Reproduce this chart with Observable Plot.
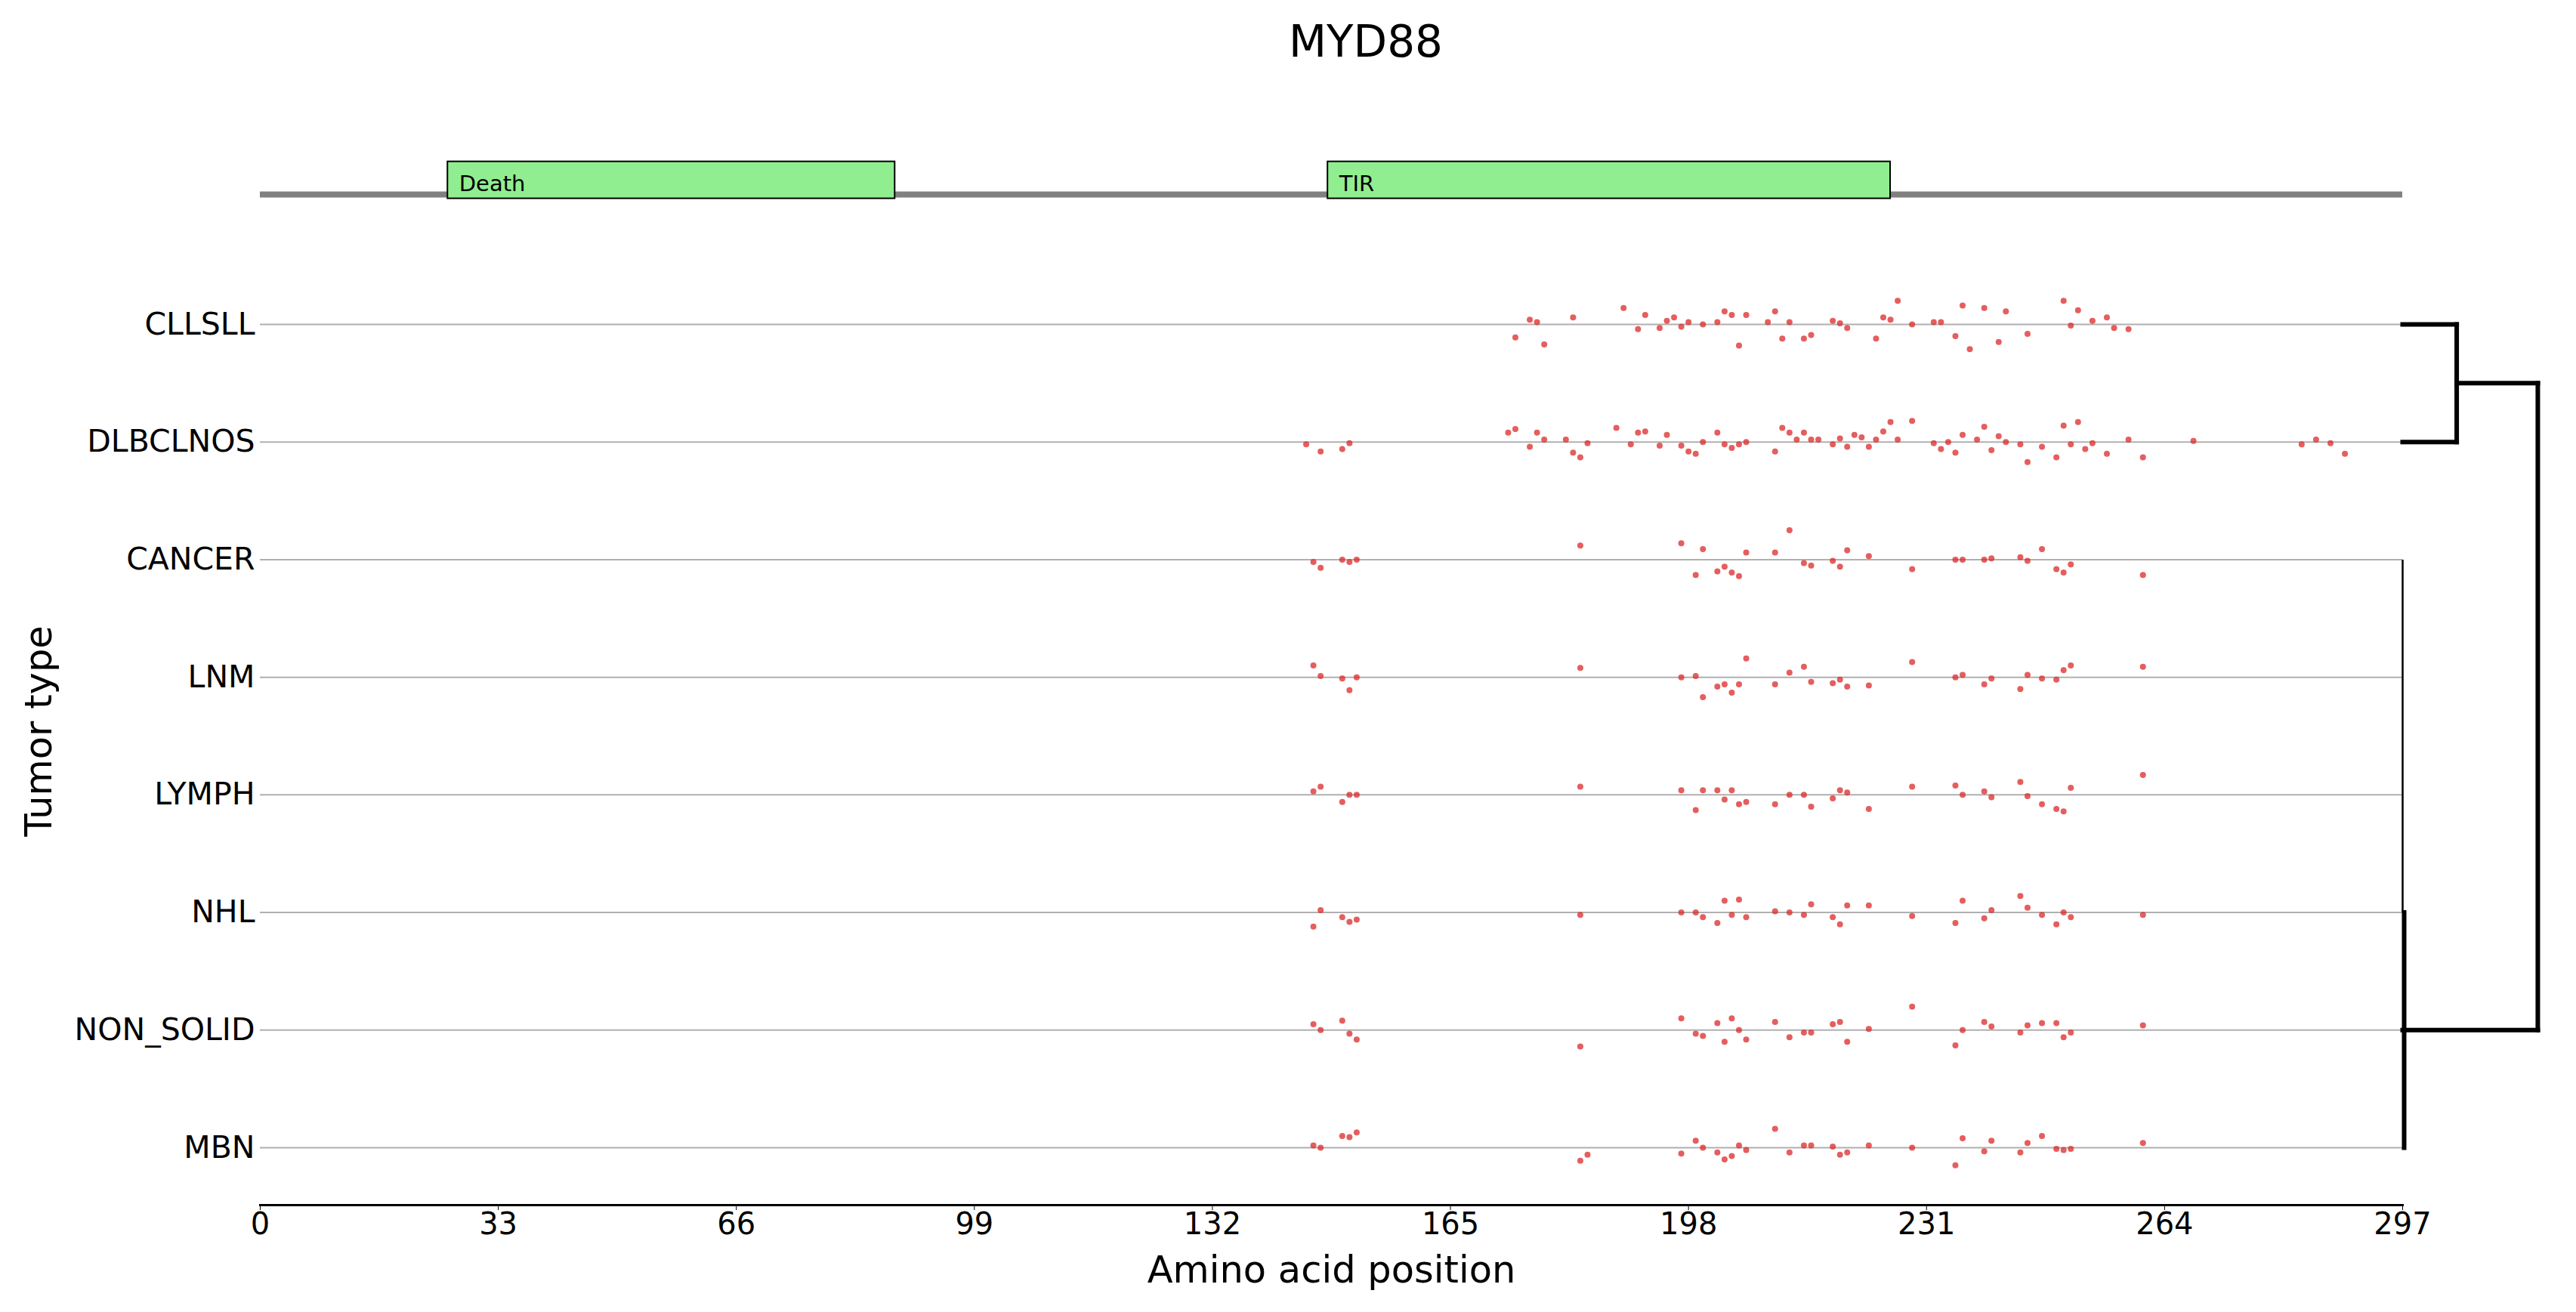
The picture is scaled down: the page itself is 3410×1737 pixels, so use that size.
<!DOCTYPE html>
<html><head><meta charset="utf-8">
<script src="https://cdn.jsdelivr.net/npm/d3@7"></script>
<script src="https://cdn.jsdelivr.net/npm/@observablehq/plot@0.6"></script>
<style>
body{margin:0;background:#fff;}
#wrap{position:relative;width:3410px;height:1737px;background:#fff;}
#title{position:absolute;left:1808px;top:26px;transform:translateX(-50%);font-family:"DejaVu Sans";font-size:58px;line-height:58px;white-space:nowrap;color:#000;}
#chart{position:absolute;left:0;top:0;}
</style></head><body>
<div id="wrap"><div id="chart"></div><div id="title">MYD88</div></div>
<script>
// ---------- data ----------
const geneName = "MYD88";
const proteinLength = 297;
const tumorTypes = ["CLLSLL", "DLBCLNOS", "CANCER", "LNM", "LYMPH", "NHL", "NON_SOLID", "MBN"];
const domainNames = ["Death", "TIR"];
const domainStarts = [26, 148];
const domainEnds = [88, 226];
const xTicks = [0, 33, 66, 99, 132, 165, 198, 231, 264, 297];

// [amino acid position, vertical jitter in row units] per tumor type
const cllsll = [[174,0.11],[176,-0.04],[177,-0.02],[178,0.17],[182,-0.06],[189,-0.14],[191,0.04],[192,-0.08],[194,0.03],[195,-0.03],[196,-0.06],[197,0.02],[198,-0.02],[200,0],[202,-0.02],[203,-0.11],[204,-0.08],[205,0.18],[206,-0.08],[209,-0.02],[210,-0.11],[211,0.12],[212,-0.02],[214,0.12],[215,0.09],[218,-0.03],[219,-0.01],[220,0.03],[224,0.12],[225,-0.06],[226,-0.04],[227,-0.2],[229,0],[232,-0.02],[233,-0.02],[235,0.1],[236,-0.16],[237,0.21],[239,-0.14],[241,0.15],[242,-0.11],[245,0.08],[250,-0.2],[251,0.01],[252,-0.12],[254,-0.03],[256,-0.06],[257,0.03],[259,0.04]];
const dlbclnos = [[145,0.02],[147,0.08],[150,0.06],[151,0.01],[173,-0.08],[174,-0.11],[176,0.04],[177,-0.08],[178,-0.02],[181,-0.02],[182,0.09],[183,0.13],[184,0.01],[188,-0.12],[190,0.02],[191,-0.08],[192,-0.09],[194,0.03],[195,-0.06],[197,0.03],[198,0.08],[199,0.1],[200,0],[202,-0.08],[203,0.02],[204,0.05],[205,0.02],[206,0],[210,0.08],[211,-0.12],[212,-0.08],[213,-0.02],[214,-0.08],[215,-0.02],[216,-0.02],[218,0.02],[219,-0.03],[220,0.04],[221,-0.06],[222,-0.04],[223,0.04],[224,-0.02],[225,-0.09],[226,-0.17],[227,-0.02],[229,-0.18],[232,0.01],[233,0.06],[234,0],[235,0.09],[236,-0.06],[238,-0.02],[239,-0.13],[240,0.07],[241,-0.05],[242,0],[244,0.02],[245,0.17],[247,0.04],[249,0.13],[250,-0.14],[251,0.02],[252,-0.17],[253,0.06],[254,0.01],[256,0.1],[259,-0.02],[261,0.13],[268,-0.01],[283,0.02],[285,-0.02],[287,0.01],[289,0.1]];
const cancer = [[146,0.02],[147,0.07],[150,0],[151,0.02],[152,0],[183,-0.12],[197,-0.14],[199,0.13],[200,-0.09],[202,0.1],[203,0.06],[204,0.11],[205,0.14],[206,-0.06],[210,-0.06],[212,-0.25],[214,0.03],[215,0.05],[218,0.01],[219,0.06],[220,-0.08],[223,-0.03],[229,0.08],[235,0],[236,0],[239,0],[240,-0.01],[244,-0.02],[245,0.01],[247,-0.09],[249,0.08],[250,0.11],[251,0.04],[261,0.13]];
const lnm = [[146,-0.1],[147,-0.01],[150,0.01],[151,0.11],[152,0],[183,-0.08],[197,0],[199,-0.01],[200,0.17],[202,0.08],[203,0.06],[204,0.13],[205,0.06],[206,-0.16],[210,0.06],[212,-0.04],[214,-0.09],[215,0.04],[218,0.05],[219,0.02],[220,0.08],[223,0.07],[229,-0.13],[235,0],[236,-0.02],[239,0.06],[240,0.01],[244,0.1],[245,-0.02],[247,0.01],[249,0.02],[250,-0.06],[251,-0.1],[261,-0.09]];
const lymph = [[146,-0.03],[147,-0.07],[150,0.06],[151,0],[152,0],[183,-0.07],[197,-0.04],[199,0.13],[200,-0.04],[202,-0.04],[203,0.04],[204,-0.04],[205,0.08],[206,0.06],[210,0.08],[212,0],[214,0],[215,0.1],[218,0.03],[219,-0.04],[220,-0.02],[223,0.12],[229,-0.07],[235,-0.08],[236,0],[239,-0.03],[240,0.02],[244,-0.11],[245,0.01],[247,0.08],[249,0.12],[250,0.14],[251,-0.06],[261,-0.17]];
const nhl = [[146,0.12],[147,-0.02],[150,0.04],[151,0.08],[152,0.06],[183,0.02],[197,0],[199,0],[200,0.04],[202,0.09],[203,-0.1],[204,0.02],[205,-0.11],[206,0.04],[210,-0.01],[212,0],[214,0.02],[215,-0.07],[218,0.04],[219,0.1],[220,-0.06],[223,-0.06],[229,0.03],[235,0.09],[236,-0.1],[239,0.05],[240,-0.02],[244,-0.14],[245,-0.04],[247,0.02],[249,0.1],[250,0],[251,0.04],[261,0.02]];
const nonSolid = [[146,-0.05],[147,0],[150,-0.08],[151,0.03],[152,0.08],[183,0.14],[197,-0.1],[199,0.03],[200,0.05],[202,-0.06],[203,0.1],[204,-0.1],[205,0],[206,0.08],[210,-0.07],[212,0.06],[214,0.02],[215,0.02],[218,-0.05],[219,-0.07],[220,0.1],[223,-0.01],[229,-0.2],[235,0.13],[236,0],[239,-0.07],[240,-0.03],[244,0.02],[245,-0.04],[247,-0.06],[249,-0.06],[250,0.06],[251,0.02],[261,-0.04]];
const mbn = [[146,-0.02],[147,0],[150,-0.1],[151,-0.09],[152,-0.13],[183,0.11],[184,0.06],[197,0.05],[199,-0.06],[200,0],[202,0.04],[203,0.1],[204,0.07],[205,-0.02],[206,0.02],[210,-0.16],[212,0.04],[214,-0.02],[215,-0.02],[218,-0.01],[219,0.06],[220,0.04],[223,-0.02],[229,0],[235,0.15],[236,-0.08],[239,0.03],[240,-0.06],[244,0.04],[245,-0.04],[247,-0.1],[249,0.01],[250,0.02],[251,0.01],[261,-0.04]];
const mutationRows = [cllsll, dlbclnos, cancer, lnm, lymph, nhl, nonSolid, mbn];

// dendrogram of tumor types (relative linkage heights)
const clusterA = [0, 1];            // CLLSLL + DLBCLNOS
const clusterAHeight = 0.4;
const clusterB = [2, 3, 4, 5, 6, 7]; // identical profiles, merged at height 0
const clusterBCenter = 6;
const rootHeight = 1;

// ---------- layout ----------
const W = 3410, H = 1737;
const trackY = -1.105, boxTop = -1.383, boxBottom = -1.069;
const dendroSpan = 18.74;   // x-units used by the dendrogram to the right of the axis
const hx = h => proteinLength + h * dendroSpan;

const mutations = mutationRows.flatMap((arr, i) => arr.map(([p, j]) => ({pos: p, y: i + j, type: tumorTypes[i]})));
const domains = domainNames.map((n, i) => ({name: n, start: domainStarts[i], end: domainEnds[i]}));

const aMid = (clusterA[0] + clusterA[1]) / 2;
const dendroThick = [
  {x1: hx(0), y1: clusterA[0], x2: hx(clusterAHeight), y2: clusterA[0]},
  {x1: hx(0), y1: clusterA[1], x2: hx(clusterAHeight), y2: clusterA[1]},
  {x1: hx(clusterAHeight), y1: clusterA[0], x2: hx(clusterAHeight), y2: clusterA[1]},
  {x1: hx(clusterAHeight), y1: aMid, x2: hx(rootHeight), y2: aMid},
  {x1: hx(rootHeight), y1: aMid, x2: hx(rootHeight), y2: clusterBCenter},
  {x1: hx(0), y1: clusterBCenter, x2: hx(rootHeight), y2: clusterBCenter}
];
const dendroZeroThin = [{x1: hx(0), y1: clusterB[0], x2: hx(0), y2: 5}];
const dendroZeroThick = [{x1: hx(0), y1: 5, x2: hx(0), y2: clusterB[clusterB.length - 1]}];

const chart = Plot.plot({
  width: W, height: H,
  marginLeft: 344, marginRight: 230, marginTop: 341, marginBottom: 142,
  style: {fontFamily: "DejaVu Sans", background: "white", color: "black", overflow: "visible"},
  x: {domain: [0, proteinLength]},
  y: {domain: [0, tumorTypes.length - 1], range: [429, 1519]},
  marks: [
    Plot.ruleY(tumorTypes.map((_, i) => i), {x1: 0, x2: proteinLength, stroke: "#b0b0b0", strokeWidth: 2}),
    Plot.ruleY([trackY], {x1: 0, x2: proteinLength, stroke: "#808080", strokeWidth: 8}),
    Plot.rect(domains, {x1: "start", x2: "end", y1: boxTop, y2: boxBottom, fill: "#90EE90", stroke: "black", strokeWidth: 2}),
    Plot.text(domains, {x: "start", y: boxBottom, text: "name", textAnchor: "start", lineAnchor: "bottom", dx: 15, dy: -10, fontSize: 29, fill: "black"}),
    Plot.dot(mutations, {x: "pos", y: "y", r: 4, fill: "#dc2828", fillOpacity: 0.75, stroke: "none"}),
    Plot.link(dendroZeroThin, {x1: "x1", y1: "y1", x2: "x2", y2: "y2", stroke: "black", strokeWidth: 2.5}),
    Plot.link(dendroZeroThick, {x1: "x1", y1: "y1", x2: "x2", y2: "y2", stroke: "black", strokeWidth: 6, dx: 2, strokeLinecap: "square"}),
    Plot.link(dendroThick, {x1: "x1", y1: "y1", x2: "x2", y2: "y2", stroke: "black", strokeWidth: 6, strokeLinecap: "square"}),
    Plot.frame({anchor: "bottom", stroke: "black", strokeWidth: 3}),
    Plot.axisX({ticks: xTicks, tickSize: 7, tickPadding: 3, fontSize: 40, label: null, tickFormat: d => String(d)}),
    Plot.axisY({ticks: tumorTypes.map((_, i) => i), tickFormat: i => tumorTypes[i], tickSize: 0, tickPadding: 7, fontSize: 41, label: null}),
    Plot.text(["Amino acid position"], {frameAnchor: "bottom", lineAnchor: "bottom", dy: 102, fontSize: 49.5, fill: "black"}),
    Plot.text(["Tumor type"], {frameAnchor: "left", dx: -292, dy: 139, rotate: -90, fontSize: 49.5, fill: "black"})
  ]
});
document.getElementById("chart").appendChild(chart);
document.getElementById("title").textContent = geneName;
</script>
</body></html>
